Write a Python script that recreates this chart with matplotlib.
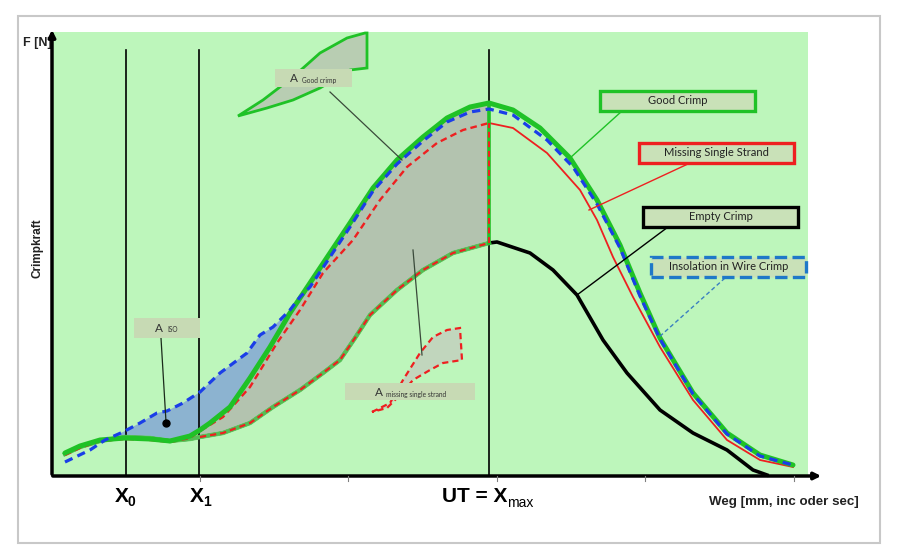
import matplotlib.pyplot as plt
from matplotlib.patches import Rectangle, Polygon

plt.rcParams['font.family'] = ['Liberation Sans', 'DejaVu Sans']

### curve values, Weg (x) and Crimpkraft (F) in drawing units
good_weg = [13, 28, 48, 73, 98, 118, 138, 148, 158, 178, 198, 218, 238, 258, 278, 298, 321,
            345, 371, 395, 418, 437, 461, 488, 518, 545, 568, 588, 608, 641, 675, 708, 741]
good_f = [22, 29, 35, 37, 36, 34, 39, 45, 52, 68, 97, 128, 162, 192, 222, 252, 287,
          315, 338, 357, 368, 372, 365, 347, 317, 275, 230, 182, 137, 82, 42, 20, 10]

iso_weg = [13, 38, 53, 71, 88, 105, 115, 131, 148, 168, 195, 208, 221, 238, 248, 258, 278, 298,
           321, 345, 371, 395, 418, 437, 461, 495, 521, 545, 568, 588, 608, 641, 675, 708, 741]
iso_f = [13, 25, 35, 43, 52, 62, 64, 72, 83, 102, 122, 140, 148, 165, 178, 188, 218, 248,
         284, 311, 334, 353, 363, 366, 360, 335, 308, 271, 227, 179, 136, 81, 41, 19, 10]

miss_weg = [13, 28, 48, 73, 98, 118, 138, 148, 171, 198, 225, 248, 271, 301, 328, 355, 385, 411,
            437, 461, 495, 528, 545, 561, 581, 608, 641, 675, 708, 741]
miss_f = [20, 27, 34, 36, 35, 33, 37, 44, 58, 88, 132, 165, 202, 235, 275, 308, 332, 345,
          352, 347, 322, 285, 255, 218, 178, 128, 75, 35, 15, 8]

empty_weg = [13, 28, 48, 73, 98, 118, 138, 148, 171, 198, 221, 248, 271, 288, 303, 318, 345, 371,
             401, 437, 445, 478, 501, 525, 551, 575, 608, 641, 675, 701, 715]
empty_f = [21, 28, 34, 38, 37, 34, 36, 38, 42, 52, 68, 85, 102, 115, 137, 160, 185, 205,
           222, 232, 233, 222, 205, 180, 135, 102, 65, 42, 25, 5, 0]

### marker positions on the Weg axis
x0_weg = 74
x1_weg = 147
ut_weg = 437
tick_weg = [148, 296, 445, 593, 742]

### sketched area callouts
good_area_weg = [186, 211, 241, 268, 295, 313, 315, 315, 298, 268, 241, 215, 186]
good_area_f = [359, 375, 398, 422, 437, 442, 442, 407, 405, 387, 375, 367, 359]
miss_area_weg = [320, 338, 351, 368, 381, 395, 408, 410, 391, 378, 361, 348, 335, 320]
miss_area_f = [63, 72, 95, 122, 138, 145, 147, 115, 112, 105, 95, 80, 67, 63]

box_labels = ['Good Crimp', 'Missing Single Strand', 'Empty Crimp', 'Insolation in Wire Crimp']

### colours
bg_green = '#bdf6bb'
good_color = '#1fc226'
lower_green = '#5dd35d'
red = '#ee2020'
blue = '#1a3ee8'
box_face = '#c9e1b8'
abox_face = '#c7dab4'

fig = plt.figure(figsize=(9, 5.5), dpi=100)
ax = fig.add_axes([0, 0, 1, 1])
ax.set_xlim(-52, 848)
ax.set_ylim(-75, 475)
ax.axis('off')

### outer frame and green plot area
ax.add_patch(Rectangle((-34, -68), 862, 527, facecolor='white', edgecolor='#c8c8c8', lw=1.5, zorder=0))
ax.add_patch(Rectangle((0, 0), 756, 443, facecolor=bg_green, edgecolor='none', zorder=0.5))

### shaded areas
gray_top = [(w, f) for w, f in zip(good_weg, good_f) if x1_weg + 1 <= w <= ut_weg]
gray_bot = [(w, f) for w, f in zip(empty_weg, empty_f) if x1_weg + 1 <= w <= ut_weg]
ax.add_patch(Polygon(gray_top + gray_bot[::-1], closed=True, facecolor='#b3c3af',
                     edgecolor='none', zorder=2))
iso_top = [(w, f) for w, f in zip(iso_weg, iso_f) if 53 <= w <= 258]
iso_bot = [(w, f) for w, f in zip(good_weg, good_f) if 48 <= w <= 258]
ax.add_patch(Polygon(iso_top + iso_bot[::-1], closed=True, facecolor='#8cb3d0',
                     edgecolor='none', zorder=2))

### vertical marker lines
for w in [x0_weg, x1_weg, ut_weg]:
    ax.plot([w, w], [0, 425], color='black', lw=1.2, zorder=3)

### curves
ax.plot(empty_weg, empty_f, color='black', lw=2.6, zorder=4)
ut_i = empty_weg.index(ut_weg)
ax.plot(empty_weg[:ut_i + 1], empty_f[:ut_i + 1], color=lower_green, lw=3.2, alpha=0.9, zorder=5)
ax.plot(empty_weg[7:ut_i + 1], empty_f[7:ut_i + 1], color=red, lw=1.6, dashes=(2.8, 1.8), zorder=6)

mi = miss_weg.index(ut_weg)
ax.plot(miss_weg[:mi + 1], miss_f[:mi + 1], color=red, lw=1.7, dashes=(2.8, 1.8), zorder=6)
ax.plot(miss_weg[mi:], miss_f[mi:], color=red, lw=1.3, zorder=6)

gi = good_weg.index(ut_weg)
ax.plot([ut_weg, ut_weg], [empty_f[ut_i], good_f[gi]], color=good_color, lw=2.6, zorder=6)
ax.plot([ut_weg, ut_weg], [empty_f[ut_i], miss_f[mi]], color=red, lw=1.5, dashes=(2.8, 1.8), zorder=6.5)

ax.plot(good_weg, good_f, color=good_color, lw=3.6, zorder=7, solid_capstyle='round')
ax.plot(iso_weg, iso_f, color=blue, lw=2.3, dashes=(2.6, 1.7), zorder=8)

### axes with arrows
ax.annotate('', xy=(0, 448), xytext=(0, -2),
            arrowprops=dict(arrowstyle='-|>', color='black', lw=2.5, mutation_scale=10), zorder=9)
ax.annotate('', xy=(772, -1), xytext=(-2, -1),
            arrowprops=dict(arrowstyle='-|>', color='black', lw=2.5, mutation_scale=10), zorder=9)
for w in tick_weg:
    ax.plot([w, w], [-1, -6], color='#808080', lw=0.8, zorder=9)

### axis texts
ax.text(-29, 432, 'F [N]', fontsize=9, fontweight='bold', ha='left', va='center', color='#222222')
ax.text(-15, 227, 'Crimpkraft', fontsize=8.5, fontweight='bold', rotation=90,
        ha='center', va='center', color='#222222')
ax.text(732, -27, 'Weg [mm, inc oder sec]', fontsize=9.6, fontweight='bold',
        ha='center', va='center', color='#222222')
ax.text(70, -21, 'X', fontsize=15, fontweight='bold', ha='center', va='center')
ax.text(76, -27, '0', fontsize=10, fontweight='bold', ha='left', va='center')
ax.text(145, -21, 'X', fontsize=15, fontweight='bold', ha='center', va='center')
ax.text(151, -27, '1', fontsize=10, fontweight='bold', ha='left', va='center')
ax.text(455, -21, 'UT = X', fontsize=15, fontweight='bold', ha='right', va='center')
ax.text(455, -28, 'max', fontsize=10, ha='left', va='center')

### sketched callout shapes
ax.add_patch(Polygon(list(zip(good_area_weg, good_area_f)), closed=True, facecolor='#b8cdb2',
                     edgecolor=good_color, lw=2, zorder=3))
ax.add_patch(Polygon(list(zip(miss_area_weg, miss_area_f)), closed=True, facecolor='#c1d6bd',
                     edgecolor=red, lw=1.6, linestyle=(0, (2.8, 1.8)), zorder=3))

### area labels with pointer lines
ax.plot([278, 350], [383, 315], color='#3a4a3a', lw=0.9, zorder=9)
ax.add_patch(Rectangle((223, 388), 77, 18, facecolor=abox_face, edgecolor='none', zorder=10))
ax.text(246, 397, 'A', fontsize=8.5, family='Lato', ha='right', va='center', color='#333333', zorder=11)
ax.text(250, 395, 'Good crimp', fontsize=4.8, family='Lato', ha='left', va='center', color='#333333', zorder=11)

ax.plot([109, 114], [137, 53], color='#1a2a1a', lw=0.9, zorder=9)
ax.plot([114], [52], 'o', color='black', markersize=5, zorder=9)
ax.add_patch(Rectangle((82, 137), 66, 20, facecolor=abox_face, edgecolor='none', zorder=10))
ax.text(111, 147, 'A', fontsize=8.5, family='Lato', ha='right', va='center', color='#333333', zorder=11)
ax.text(115, 145, 'ISO', fontsize=4.8, family='Lato', ha='left', va='center', color='#333333', zorder=11)

ax.plot([361, 370], [225, 120], color='#3a4a3a', lw=0.9, zorder=9)
ax.add_patch(Rectangle((293, 75), 130, 17, facecolor=abox_face, edgecolor='none', zorder=10))
ax.text(331, 83, 'A', fontsize=8.5, family='Lato', ha='right', va='center', color='#333333', zorder=11)
ax.text(334, 81, 'missing single strand', fontsize=4.8, family='Lato', ha='left', va='center',
        color='#333333', zorder=11)

### curve label boxes with pointer lines
box_pos = [(548, 364), (587, 312), (591, 248), (599, 198)]
box_edges = [good_color, red, 'black', '#1f78c8']
box_styles = ['-', '-', '-', '--']
pointers = [((570, 364), (518, 317)), ((638, 312), (537, 265)),
            ((616, 248), (525, 180)), ((673, 197), (606, 137))]
for label, (bx, by), ec, ls, (p0, p1) in zip(box_labels, box_pos, box_edges, box_styles, pointers):
    if ls == '--':
        ax.plot([p0[0], p1[0]], [p0[1], p1[1]], color='#3a7fc0', lw=1, dashes=(3, 2), zorder=9)
    else:
        ax.plot([p0[0], p1[0]], [p0[1], p1[1]], color=ec, lw=1, zorder=9)
    ax.add_patch(Rectangle((bx, by), 155, 20, facecolor=box_face, edgecolor=ec, lw=2.4,
                           linestyle=ls, zorder=10))
    ax.text(bx + 77.5, by + 10, label, fontsize=8, family='Lato', ha='center', va='center',
            color='#222222', zorder=11)

plt.savefig('out.png', dpi=100)
plt.close(fig)
